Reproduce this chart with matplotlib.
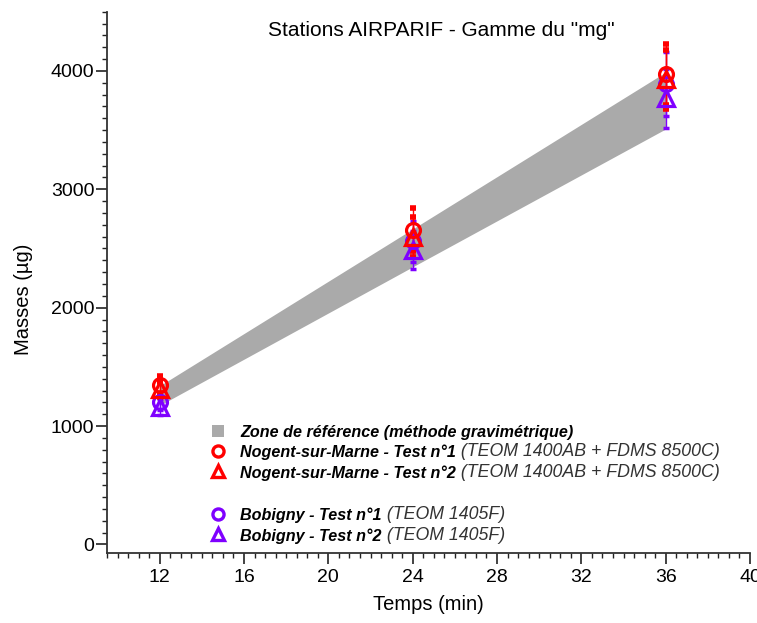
import matplotlib
matplotlib.use("Agg")
import matplotlib.pyplot as plt
from matplotlib.ticker import MultipleLocator

plt.rcParams['font.family'] = ['Liberation Sans', 'DejaVu Sans']

# ---- data ----
times = [12, 24, 36]
band_low = [1175, 2345, 3510]
band_high = [1340, 2665, 3990]

nogent1 = [1350, 2660, 3970]
nogent1_err = [70, 180, 260]
nogent2 = [1310, 2600, 3930]
nogent2_err = [65, 170, 250]
bobigny1 = [1200, 2560, 3890]
bobigny1_err = [65, 170, 270]
bobigny2 = [1160, 2490, 3770]
bobigny2_err = [65, 160, 250]

title = 'Stations AIRPARIF - Gamme du "mg"'
xlabel = "Temps (min)"
ylabel = "Masses (µg)"

legend_bold = ["Zone de référence (méthode gravimétrique)",
               "Nogent-sur-Marne - Test n°1",
               "Nogent-sur-Marne - Test n°2",
               None,
               "Bobigny - Test n°1",
               "Bobigny - Test n°2"]
legend_extra = ["",
                " (TEOM 1400AB + FDMS 8500C)",
                " (TEOM 1400AB + FDMS 8500C)",
                None,
                " (TEOM 1405F)",
                " (TEOM 1405F)"]

RED = "#FF0000"
PURPLE = "#7F00FF"
GREY = "#AAAAAA"

fig = plt.figure(figsize=(7.57, 6.23), dpi=100)
ax = fig.add_axes([0.1413, 0.1128, 0.8495, 0.8684])

ax.fill_between(times, band_low, band_high, color=GREY, linewidth=0, zorder=1)

def series(y, err, marker, color, capsize, capthick, ms):
    ax.errorbar(times, y, yerr=err, fmt='none', ecolor=color, elinewidth=1,
                capsize=capsize, capthick=capthick, zorder=3)
    ax.plot(times, y, linestyle='none', marker=marker, markersize=ms,
            markerfacecolor='none', markeredgecolor=color, markeredgewidth=2.3, zorder=4)

series(bobigny1, bobigny1_err, 'o', PURPLE, 2.5, 2.5, 10)
series(bobigny2, bobigny2_err, '^', PURPLE, 2.5, 2.5, 11)
series(nogent1, nogent1_err, 'o', RED, 2, 4, 10)
series(nogent2, nogent2_err, '^', RED, 2, 4, 11)

ax.set_xlim(9.5, 40)
ax.set_ylim(-70, 4500)
ax.xaxis.set_major_locator(MultipleLocator(4))
ax.xaxis.set_minor_locator(MultipleLocator(0.5))
ax.yaxis.set_major_locator(MultipleLocator(1000))
ax.yaxis.set_minor_locator(MultipleLocator(100))
ax.set_xticks([12, 16, 20, 24, 28, 32, 36, 40])

for s in ['top', 'right']:
    ax.spines[s].set_visible(False)
for s in ['left', 'bottom']:
    ax.spines[s].set_linewidth(1.3)
    ax.spines[s].set_color('#333333')
ax.tick_params(which='major', direction='out', length=8, width=1.2, labelsize=14, colors='#222222')
ax.tick_params(which='minor', direction='out', length=3.4, width=1.0, colors='#222222')
ax.tick_params(axis='y', which='major', pad=1)
ax.tick_params(axis='x', which='major', pad=4)
for lab in ax.get_xticklabels() + ax.get_yticklabels():
    lab.set_color('black')

ax.set_xlabel(xlabel, fontsize=14.5, labelpad=6)
ax.set_ylabel(ylabel, fontsize=14.5, labelpad=10)
ax.yaxis.set_label_coords(-0.115, 0.468)
ax.text(0.52, 0.965, title, transform=ax.transAxes, ha='center', va='center', fontsize=15)

# ---- custom legend ----
handles = [('s', GREY, True), ('o', RED, False), ('^', RED, False), None,
           ('o', PURPLE, False), ('^', PURPLE, False)]
row_y = [430.7, 451.0, 471.3, None, 514.0, 534.3]
mx, tx = 218, 240
H = 623.0
for h, yb, ye, ry in zip(handles, legend_bold, legend_extra, row_y):
    if h is None:
        continue
    fy = 1 - ry / H
    m, c, filled = h
    fig.lines.append(plt.Line2D([mx / 757.0], [fy], transform=fig.transFigure,
                                marker=m, markersize=8.5 if filled else 8,
                                markerfacecolor=c if filled else 'none',
                                markeredgecolor=c, markeredgewidth=0 if filled else 2.4,
                                linestyle='none'))
    t = fig.text(tx / 757.0, fy, yb, fontsize=11.6, fontweight='bold', fontstyle='italic',
                 va='center_baseline', ha='left')
    if ye:
        ax.annotate(ye, xy=(1, 0), xycoords=t, xytext=(0, 0), textcoords='offset points',
                    fontsize=12.8, fontstyle='italic', fontweight='light', va='bottom',
                    ha='left', color='#333333', annotation_clip=False)

fig.savefig("out.png", dpi=100)
